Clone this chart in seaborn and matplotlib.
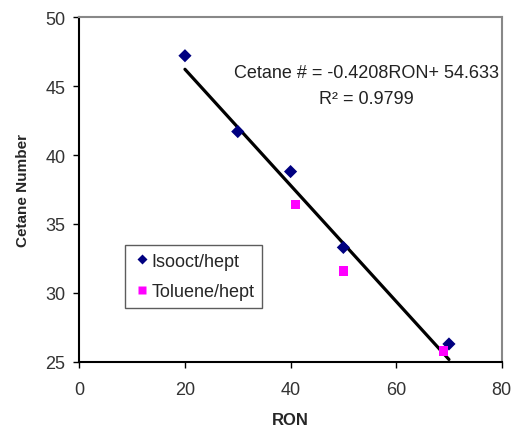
import numpy as np
import pandas as pd
import matplotlib
matplotlib.use("Agg")
import matplotlib.pyplot as plt
import seaborn as sns

sns.set_style("white")
plt.rcParams['font.family'] = ['Liberation Sans', 'DejaVu Sans']

# data
isooct_ron = [20, 30, 40, 50, 70]
isooct_cn = [47.2, 41.7, 38.8, 33.3, 26.3]
toluene_ron = [41, 50, 69]
toluene_cn = [36.4, 31.6, 25.8]

slope = -0.4208
intercept = 54.633
fit_range = [20, 70]

df = pd.DataFrame({
    "RON": isooct_ron + toluene_ron,
    "CN": isooct_cn + toluene_cn,
    "Blend": ["Isooct/hept"] * len(isooct_ron) + ["Toluene/hept"] * len(toluene_ron),
})

fit = pd.DataFrame({"RON": fit_range})
fit["CN"] = slope * fit["RON"] + intercept

fig, ax = plt.subplots(figsize=(5.12, 4.31), dpi=100)

sns.lineplot(data=fit, x="RON", y="CN", color="black", lw=2.3, ax=ax, zorder=1)
sns.scatterplot(data=df, x="RON", y="CN", hue="Blend", style="Blend",
                palette={"Isooct/hept": "#000080", "Toluene/hept": "#ff00ff"},
                markers={"Isooct/hept": "D", "Toluene/hept": "s"},
                s=45, edgecolor="none", ax=ax, zorder=2)

ax.set_xlim(0, 80)
ax.set_ylim(25, 50)
ax.set_xticks(np.arange(0, 81, 20))
ax.set_yticks(np.arange(25, 51, 5))
ax.tick_params(axis="both", direction="out", length=4, width=1, colors="black",
               labelcolor="#333333", labelsize=13, left=True, bottom=True)
ax.tick_params(axis="x", pad=10)
ax.tick_params(axis="y", pad=6)
for side in ["left", "bottom"]:
    ax.spines[side].set_color("black")
    ax.spines[side].set_linewidth(1.5)
for side in ["top", "right"]:
    ax.spines[side].set_color("#888888")
    ax.spines[side].set_linewidth(1.5)

ax.set_xlabel("RON", fontweight="bold", fontsize=12, labelpad=10)
ax.set_ylabel("Cetane Number", fontweight="bold", fontsize=11, labelpad=11)

fig.text(366 / 512, 1 - 74 / 431, "Cetane # = -0.4208RON+ 54.633", fontsize=13,
         ha="center", va="center", color="#222222")
fig.text(366 / 512, 1 - 99 / 431, "R² = 0.9799", fontsize=13, ha="center",
         va="center", color="#222222")

leg = ax.legend(loc="lower left", bbox_to_anchor=(0.108, 0.155), frameon=True,
                fancybox=False, edgecolor="#333333", fontsize=13,
                handletextpad=0.0, borderpad=0.45, labelspacing=0.75,
                handlelength=1.0, borderaxespad=0, title=None, markerscale=0.8)
leg.get_frame().set_linewidth(1)

fig.subplots_adjust(left=0.155, right=0.98, top=0.958, bottom=0.158)
fig.savefig("out.png", dpi=100)
